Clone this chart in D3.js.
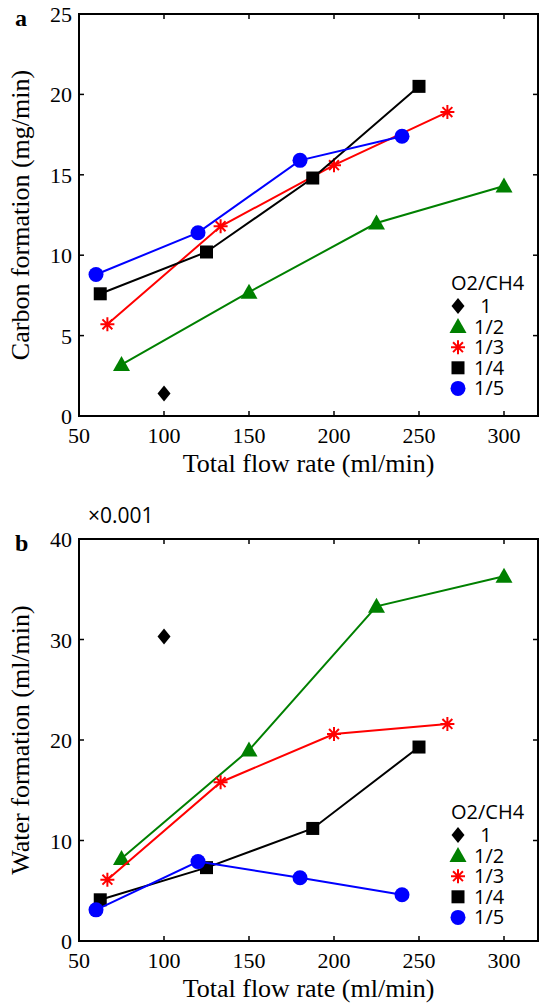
<!DOCTYPE html>
<html>
<head>
<meta charset="utf-8">
<script src="https://cdn.jsdelivr.net/npm/d3@7"></script>
<style>
  body { margin: 0; background: #fff; }
  svg { display: block; }
  .tick-label { font-family: "Liberation Serif", "Times New Roman", serif; font-size: 22px; fill: #000; }
  .axis-title { font-family: "Liberation Serif", "Times New Roman", serif; font-size: 26px; fill: #000; }
  .legend-text { font-family: "Open Sans", "DejaVu Sans", sans-serif; font-size: 20px; fill: #000; }
</style>
</head>
<body>
<svg id="chart" width="539" height="1003"></svg>
<script>
// data
const ratios = ["1", "1/2", "1/3", "1/4", "1/5"];
const flow1 = [100];
const flowHalf = [75, 150, 225, 300];
const flowThird = [66.7, 133.3, 200, 266.7];
const flowQuarter = [62.5, 125, 187.5, 250];
const flowFifth = [60, 120, 180, 240];

const carbon1 = [1.4];
const carbonHalf = [3.2, 7.7, 12.0, 14.3];
const carbonThird = [5.7, 11.8, 15.6, 18.9];
const carbonQuarter = [7.6, 10.2, 14.8, 20.5];
const carbonFifth = [8.8, 11.4, 15.9, 17.4];

// water values in units of 0.001 ml/min
const water1 = [30.3];
const waterHalf = [8.2, 19.0, 33.3, 36.3];
const waterThird = [6.1, 15.8, 20.6, 21.6];
const waterQuarter = [4.1, 7.3, 11.2, 19.3];
const waterFifth = [3.1, 7.9, 6.3, 4.6];

const xTicks = [50, 100, 150, 200, 250, 300];
const carbonTicks = [0, 5, 10, 15, 20, 25];
const waterTicks = [0, 10, 20, 30, 40];

const colors = { "1": "#000", "1/2": "#008000", "1/3": "#ff0000", "1/4": "#000", "1/5": "#0000ff" };
const shapes = { "1": "diamond", "1/2": "triangle", "1/3": "star", "1/4": "square", "1/5": "circle" };
const flows = [flow1, flowHalf, flowThird, flowQuarter, flowFifth];

const svg = d3.select("#chart");
const left = 79, right = 538;

function marker(g, shape, x, y, color) {
  if (shape === "circle") {
    g.append("circle").attr("cx", x).attr("cy", y).attr("r", 7.5).attr("fill", color);
  } else if (shape === "square") {
    g.append("rect").attr("x", x - 6.5).attr("y", y - 6.5).attr("width", 13).attr("height", 13).attr("fill", color);
  } else if (shape === "triangle") {
    g.append("path").attr("d", `M${x},${y - 8.5}L${x + 8.5},${y + 6.5}L${x - 8.5},${y + 6.5}Z`).attr("fill", color);
  } else if (shape === "diamond") {
    g.append("path").attr("d", `M${x},${y - 8}L${x + 6.5},${y}L${x},${y + 8}L${x - 6.5},${y}Z`).attr("fill", color);
  } else if (shape === "star") {
    const r = 7, d = r * 0.7071;
    g.append("path")
      .attr("d", `M${x - r},${y}L${x + r},${y}M${x},${y - r}L${x},${y + r}M${x - d},${y - d}L${x + d},${y + d}M${x - d},${y + d}L${x + d},${y - d}`)
      .attr("stroke", color).attr("stroke-width", 2).attr("fill", "none");
  }
}

function drawPanel(cfg) {
  const g = svg.append("g");
  const x = d3.scaleLinear().domain([50, 320]).range([left, right]);
  const y = d3.scaleLinear().domain(cfg.yDomain).range([cfg.bottom, cfg.top]);

  // ticks, inward on all four sides
  const tl = 5;
  xTicks.forEach(t => {
    g.append("line").attr("x1", x(t)).attr("x2", x(t)).attr("y1", cfg.bottom).attr("y2", cfg.bottom - tl).attr("stroke", "#000").attr("stroke-width", 1.5);
    g.append("line").attr("x1", x(t)).attr("x2", x(t)).attr("y1", cfg.top).attr("y2", cfg.top + tl).attr("stroke", "#000").attr("stroke-width", 1.5);
    g.append("text").attr("class", "tick-label").attr("x", x(t)).attr("y", cfg.bottom + 27)
      .attr("text-anchor", "middle").text(t);
  });
  cfg.yTicks.forEach(t => {
    g.append("line").attr("x1", left).attr("x2", left + tl).attr("y1", y(t)).attr("y2", y(t)).attr("stroke", "#000").attr("stroke-width", 1.5);
    g.append("line").attr("x1", right).attr("x2", right - tl).attr("y1", y(t)).attr("y2", y(t)).attr("stroke", "#000").attr("stroke-width", 1.5);
    g.append("text").attr("class", "tick-label").attr("x", left - 7).attr("y", y(t) + 8)
      .attr("text-anchor", "end").text(t);
  });

  // frame
  g.append("rect").attr("x", left).attr("y", cfg.top).attr("width", right - left).attr("height", cfg.bottom - cfg.top)
    .attr("fill", "none").attr("stroke", "#000").attr("stroke-width", 2);

  // series
  const line = d3.line().x(d => x(d[0])).y(d => y(d[1]));
  ratios.forEach((r, i) => {
    const pts = flows[i].map((f, j) => [f, cfg.values[i][j]]);
    if (pts.length > 1) {
      g.append("path").attr("d", line(pts)).attr("fill", "none").attr("stroke", colors[r]).attr("stroke-width", 2);
    }
    pts.forEach(p => marker(g, shapes[r], x(p[0]), y(p[1]), colors[r]));
  });

  // axis titles
  g.append("text").attr("class", "axis-title").attr("x", (left + right) / 2).attr("y", cfg.bottom + 56)
    .attr("text-anchor", "middle").text("Total flow rate (ml/min)");
  g.append("text").attr("class", "axis-title")
    .attr("transform", `translate(29,${(cfg.top + cfg.bottom) / 2}) rotate(-90)`)
    .attr("text-anchor", "middle").text(cfg.yTitle);

  // panel letter
  g.append("text").attr("x", 15).attr("y", cfg.top + 12)
    .attr("font-family", "Liberation Serif, serif").attr("font-weight", "bold").attr("font-size", 24)
    .text(cfg.letter);

  // legend
  const lx = 458, ly = cfg.legendTop;
  g.append("text").attr("class", "legend-text").attr("x", 451).attr("y", ly).text("O2/CH4");
  ratios.forEach((r, i) => {
    const cy = ly + 16 + i * 20.6;
    marker(g, shapes[r], lx, cy, colors[r]);
    g.append("text").attr("class", "legend-text")
      .attr("x", r === "1" ? 486 : 474).attr("y", cy + 7)
      .attr("text-anchor", r === "1" ? "middle" : "start").text(r);
  });
  return g;
}

drawPanel({
  top: 14, bottom: 416, yDomain: [0, 25], yTicks: carbonTicks,
  values: [carbon1, carbonHalf, carbonThird, carbonQuarter, carbonFifth],
  yTitle: "Carbon formation (mg/min)", letter: "a", legendTop: 290
});

drawPanel({
  top: 539, bottom: 941, yDomain: [0, 40], yTicks: waterTicks,
  values: [water1, waterHalf, waterThird, waterQuarter, waterFifth],
  yTitle: "Water formation (ml/min)", letter: "b", legendTop: 819
});

// scale factor note above panel b
svg.append("text").attr("class", "legend-text").attr("x", 88).attr("y", 523)
  .style("font-size", "21px").text("×0.001");
</script>
</body>
</html>
